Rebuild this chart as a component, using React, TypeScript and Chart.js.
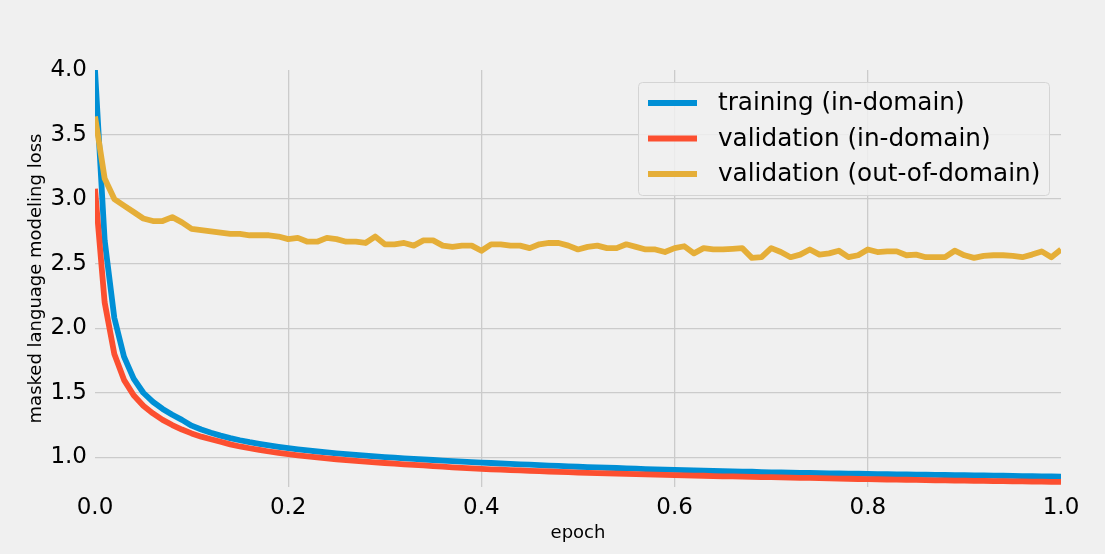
import React, { useEffect, useRef } from "react";
import { Chart, registerables } from "chart.js";

Chart.register(...registerables);

// Evaluation every 0.01 epoch (101 checkpoints from 0.0 to 1.0)
const epochs: number[] = Array.from({ length: 101 }, (_, i) => i / 100);

const trainingInDomain: number[] = [
  4.0, 2.68, 2.08, 1.78, 1.61, 1.5, 1.43, 1.375, 1.33, 1.29,
  1.245, 1.215, 1.19, 1.168, 1.149, 1.132, 1.117, 1.104, 1.092, 1.081,
  1.071, 1.062, 1.053, 1.045, 1.038, 1.031, 1.025, 1.019, 1.013, 1.007,
  1.002, 0.997, 0.992, 0.988, 0.983, 0.979, 0.975, 0.971, 0.967, 0.963,
  0.959, 0.956, 0.952, 0.949, 0.946, 0.943, 0.939, 0.936, 0.933, 0.93,
  0.927, 0.924, 0.922, 0.919, 0.917, 0.914, 0.912, 0.909, 0.907, 0.904,
  0.902, 0.9, 0.898, 0.896, 0.894, 0.893, 0.891, 0.889, 0.888, 0.886,
  0.884, 0.883, 0.882, 0.88, 0.879, 0.878, 0.876, 0.875, 0.874, 0.873,
  0.871, 0.87, 0.869, 0.868, 0.867, 0.866, 0.865, 0.864, 0.863, 0.862,
  0.861, 0.86, 0.859, 0.858, 0.857, 0.856, 0.855, 0.854, 0.853, 0.852,
  0.851,
];

const validationInDomain: number[] = [
  3.08, 2.2, 1.8, 1.6, 1.48, 1.4, 1.34, 1.29, 1.25, 1.215,
  1.185, 1.16, 1.14, 1.12, 1.1, 1.084, 1.07, 1.057, 1.045, 1.034,
  1.024, 1.015, 1.007, 0.999, 0.992, 0.985, 0.979, 0.973, 0.967, 0.961,
  0.956, 0.951, 0.946, 0.941, 0.937, 0.932, 0.927, 0.922, 0.918, 0.914,
  0.91, 0.907, 0.904, 0.901, 0.898, 0.895, 0.893, 0.89, 0.887, 0.885,
  0.882, 0.88, 0.878, 0.876, 0.874, 0.872, 0.87, 0.868, 0.866, 0.864,
  0.862, 0.86, 0.858, 0.857, 0.855, 0.853, 0.852, 0.85, 0.849, 0.847,
  0.846, 0.844, 0.843, 0.841, 0.84, 0.838, 0.837, 0.835, 0.834, 0.832,
  0.831, 0.83, 0.828, 0.827, 0.826, 0.825, 0.823, 0.822, 0.821, 0.82,
  0.819, 0.818, 0.817, 0.816, 0.815, 0.814, 0.813, 0.812, 0.811, 0.81,
  0.809,
];

const validationOutOfDomain: number[] = [
  3.64, 3.16, 3.0, 2.95, 2.9, 2.85, 2.83, 2.83, 2.86, 2.82,
  2.77, 2.76, 2.75, 2.74, 2.73, 2.73, 2.72, 2.72, 2.72, 2.71,
  2.69, 2.7, 2.67, 2.67, 2.7, 2.69, 2.67, 2.67, 2.66, 2.71,
  2.65, 2.65, 2.66, 2.64, 2.68, 2.68, 2.64, 2.63, 2.64, 2.64,
  2.6, 2.65, 2.65, 2.64, 2.64, 2.62, 2.65, 2.66, 2.66, 2.64,
  2.61, 2.63, 2.64, 2.62, 2.62, 2.65, 2.63, 2.61, 2.61, 2.59,
  2.62, 2.635, 2.58, 2.62, 2.61, 2.61, 2.615, 2.62, 2.545, 2.55,
  2.62, 2.59, 2.55, 2.57, 2.61, 2.57, 2.58, 2.6, 2.55, 2.565,
  2.61, 2.59, 2.595, 2.595, 2.565, 2.57, 2.55, 2.55, 2.55, 2.6,
  2.565, 2.545, 2.56, 2.565, 2.565, 2.56, 2.55, 2.57, 2.595, 2.55,
  2.61,
];

const seriesLabels = [
  "training (in-domain)",
  "validation (in-domain)",
  "validation (out-of-domain)",
];
const seriesColors = ["#008fd5", "#fc4f30", "#e5ae38"];

const xTickValues = [0, 0.2, 0.4, 0.6, 0.8, 1.0];
const yTickValues = [1.0, 1.5, 2.0, 2.5, 3.0, 3.5, 4.0];

const FONT = "DejaVu Sans";
const BG = "#f0f0f0";
const GRID = "#cbcbcb";

const legendPlugin = {
  id: "boxLegend",
  afterDraw(chart: any) {
    const { ctx, chartArea } = chart;
    const right = chartArea.right - 12;
    const left = right - 411;
    const top = chartArea.top + 12;
    const rowGap = 35.5;
    const height = 113;
    ctx.save();
    ctx.beginPath();
    if (ctx.roundRect) ctx.roundRect(left + 0.5, top + 0.5, right - left, height, 4);
    else ctx.rect(left + 0.5, top + 0.5, right - left, height);
    ctx.fillStyle = "rgba(240,240,240,0.85)";
    ctx.fill();
    ctx.strokeStyle = "#d4d4d4";
    ctx.lineWidth = 1;
    ctx.stroke();
    ctx.font = `24.7px "${FONT}"`;
    ctx.textBaseline = "middle";
    ctx.textAlign = "left";
    seriesLabels.forEach((label, i) => {
      const cy = top + 21 + i * rowGap;
      ctx.beginPath();
      ctx.strokeStyle = seriesColors[i];
      ctx.lineWidth = 5.8;
      ctx.lineCap = "butt";
      ctx.moveTo(left + 10, cy);
      ctx.lineTo(left + 59, cy);
      ctx.stroke();
      ctx.fillStyle = "#000";
      ctx.fillText(label, left + 80, cy + 1);
    });
    ctx.restore();
  },
};

export default function App() {
  const canvasRef = useRef<HTMLCanvasElement | null>(null);

  useEffect(() => {
    const canvas = canvasRef.current;
    if (!canvas) return;
    const seriesValues = [trainingInDomain, validationInDomain, validationOutOfDomain];
    const chart = new Chart(canvas, {
      type: "line",
      data: {
        datasets: seriesValues.map((vals, i) => ({
          label: seriesLabels[i],
          data: vals.map((v, j) => ({ x: epochs[j], y: v })),
          borderColor: seriesColors[i],
          backgroundColor: seriesColors[i],
          borderWidth: 5.8,
          pointRadius: 0,
          tension: 0,
          fill: false,
          borderJoinStyle: "round" as const,
          borderCapStyle: "butt" as const,
          order: 2 - i,
        })),
      },
      options: {
        responsive: false,
        animation: false,
        devicePixelRatio: 1,
        layout: { padding: { left: 0, right: 44, top: 70, bottom: 0 } },
        plugins: {
          legend: { display: false },
          tooltip: { enabled: false },
          title: { display: false },
        },
        scales: {
          x: {
            type: "linear",
            min: 0,
            max: 1,
            afterBuildTicks: (scale: any) => {
              scale.ticks = xTickValues.map((v) => ({ value: v }));
            },
            afterFit: (scale: any) => {
              scale.height = 67;
            },
            ticks: {
              callback: (v: any) => Number(v).toFixed(1),
              font: { family: FONT, size: 23 },
              color: "#000",
              padding: 7,
              maxRotation: 0,
              autoSkip: false,
            },
            grid: {
              color: (c: any) =>
                c.tick && (c.tick.value === 0 || c.tick.value === 1) ? "rgba(0,0,0,0)" : GRID,
              lineWidth: 1.3,
              drawTicks: false,
            },
            border: { display: false },
            title: {
              display: true,
              text: "epoch",
              font: { family: FONT, size: 18 },
              color: "#000",
              padding: { top: 0, bottom: 10 },
            },
          },
          y: {
            type: "linear",
            min: 0.77,
            max: 4.0,
            afterBuildTicks: (scale: any) => {
              scale.ticks = yTickValues.map((v) => ({ value: v }));
            },
            afterFit: (scale: any) => {
              scale.width = 95;
            },
            ticks: {
              callback: (v: any) => Number(v).toFixed(1),
              font: { family: FONT, size: 23 },
              color: "#000",
              padding: 8,
              autoSkip: false,
            },
            grid: {
              color: (c: any) => (c.tick && c.tick.value === 4 ? "rgba(0,0,0,0)" : GRID),
              lineWidth: 1.3,
              drawTicks: false,
            },
            border: { display: false },
            title: {
              display: true,
              text: "masked language modeling loss",
              font: { family: FONT, size: 18 },
              color: "#000",
              padding: { top: 26, bottom: 0 },
            },
          },
        },
      },
      plugins: [legendPlugin],
    } as any);
    return () => chart.destroy();
  }, []);

  return (
    <div
      style={{
        position: "fixed",
        left: 0,
        top: 0,
        width: 1105,
        height: 554,
        background: BG,
      }}
    >
      <canvas ref={canvasRef} width={1105} height={554} style={{ display: "block" }} />
    </div>
  );
}
